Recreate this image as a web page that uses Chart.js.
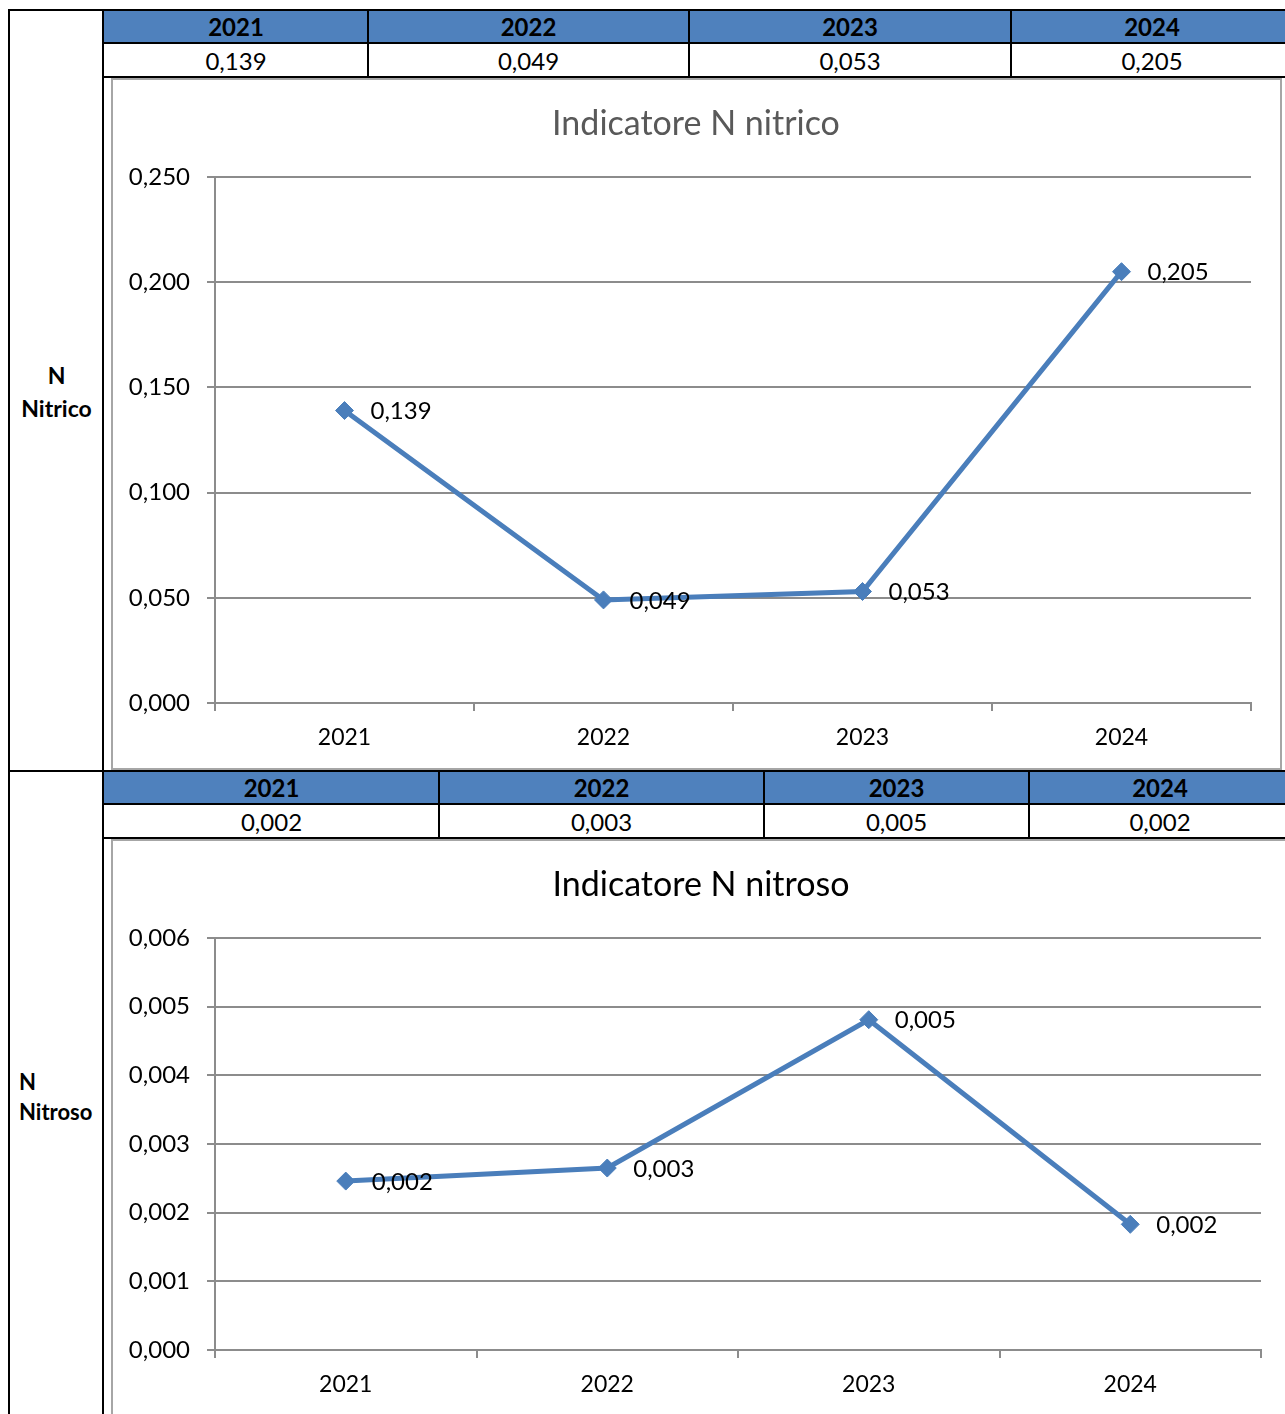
<!DOCTYPE html>
<html lang="it">
<head>
<meta charset="utf-8">
<title>Indicatori N nitrico / N nitroso</title>
<script src="https://cdn.jsdelivr.net/npm/chart.js@4.4.1/dist/chart.umd.min.js"></script>
<style>
  html, body { margin: 0; padding: 0; background: #fff; }
  body { position: relative; width: 1285px; height: 1414px; overflow: hidden; font-family: Lato, 'Open Sans', sans-serif; color: #000; }
  .ln { position: absolute; background: #000; }
  .hd { position: absolute; background: #4F81BD; }
  .cell { position: absolute; display: flex; align-items: center; justify-content: center; font-size: 24px; white-space: nowrap; }
  .cell.year { font-weight: bold; font-size: 24px; }
  .side { position: absolute; font-weight: bold; font-size: 23px; }
  .box { position: absolute; border: 2px solid #A6A6A6; box-sizing: border-box; background: #fff; }
  canvas { position: absolute; }
</style>
</head>
<body>
<div class="side" style="left:10px;width:93px;top:359px;line-height:33px;text-align:center;">N<br>Nitrico</div>
<div class="side" style="left:19px;top:1067px;line-height:30px;font-size:22px;">N<br>Nitroso</div>

<div class="box" style="left:111px;top:78px;width:1171px;height:692px;"></div>
<div class="box" style="left:111px;top:839px;width:1190px;height:620px;"></div>
<canvas id="chartNitrico" width="1168" height="690" style="left:112px;top:80px;"></canvas>
<canvas id="chartNitroso" width="1185" height="600" style="left:112px;top:841px;"></canvas>

<script>
const YEARS = ['2021', '2022', '2023', '2024'];
const N_NITRICO = [0.139, 0.049, 0.053, 0.205];
const N_NITROSO = [0.00246, 0.00265, 0.00481, 0.00183];

const FONT = "Lato, 'Open Sans', sans-serif";
const LINE_BLUE = '#4A7EBB';
const AXIS_GREY = '#8C8C8C';

const fmt = (v) => Number(v).toFixed(3).replace('.', ',');

// righe tabella: intestazione anni + riga valori
function drawTable(top, cols, values) {
    const add = (cls, css, txt) => {
        const d = document.createElement('div');
        d.className = cls;
        d.style.cssText = css;
        if (txt !== undefined) d.textContent = txt;
        document.body.appendChild(d);
    };
    add('hd', `left:104px;top:${top + 2}px;width:1200px;height:31px;`);
    add('ln', `left:102px;top:${top + 33}px;width:1200px;height:2px;`);
    add('ln', `left:102px;top:${top + 67}px;width:1200px;height:2px;`);
    for (let i = 1; i < cols.length - 1; i++) {
        add('ln', `left:${cols[i] - 1}px;top:${top}px;width:2px;height:68px;`);
    }
    YEARS.forEach((y, i) => {
        const l = cols[i], w = cols[i + 1] - cols[i];
        add('cell year', `left:${l}px;top:${top + 2}px;width:${w}px;height:31px;`, y);
        add('cell', `left:${l}px;top:${top + 35}px;width:${w}px;height:32px;`, fmt(values[i]));
    });
}

// griglia esterna
(function frame() {
    const add = (css) => {
        const d = document.createElement('div');
        d.className = 'ln';
        d.style.cssText = css;
        document.body.appendChild(d);
    };
    add('left:8px;top:9px;width:2px;height:1420px;');
    add('left:102px;top:9px;width:2px;height:1420px;');
    add('left:8px;top:9px;width:1300px;height:2px;');
    add('left:8px;top:770px;width:1300px;height:2px;');
})();

drawTable(9, [104, 368, 689, 1011, 1293], N_NITRICO);
drawTable(770, [104, 439, 764, 1029, 1291], N_NITROSO);

// titolo centrato sul riquadro intero (non sull'area del grafico)
const boxTitle = {
    id: 'boxTitle',
    afterDraw(chart, args, opts) {
        const { ctx } = chart;
        ctx.save();
        ctx.font = `34px ${FONT}`;
        ctx.fillStyle = opts.color;
        ctx.textAlign = 'center';
        ctx.textBaseline = 'middle';
        ctx.fillText(opts.text, opts.x, opts.y);
        ctx.restore();
    },
};

// etichette valore a destra di ogni punto
const valueLabels = {
    id: 'valueLabels',
    afterDatasetsDraw(chart) {
        const { ctx } = chart;
        const meta = chart.getDatasetMeta(0);
        const data = chart.data.datasets[0].data;
        ctx.save();
        ctx.font = `24px ${FONT}`;
        ctx.fillStyle = '#000';
        ctx.textAlign = 'left';
        ctx.textBaseline = 'middle';
        meta.data.forEach((pt, i) => {
            ctx.fillText(fmt(data[i]), pt.x + 26, pt.y + 1);
        });
        ctx.restore();
    },
};

function lineChart(canvas, values, o) {
    return new Chart(canvas, {
        type: 'line',
        data: {
            labels: YEARS,
            datasets: [{
                data: values,
                borderColor: LINE_BLUE,
                backgroundColor: LINE_BLUE,
                borderWidth: 5,
                tension: 0,
                pointStyle: 'rectRot',
                pointRadius: 9,
                pointHoverRadius: 9,
                pointBorderWidth: 1,
                pointBorderColor: LINE_BLUE,
            }],
        },
        options: {
            responsive: false,
            animation: false,
            events: [],
            layout: { padding: { left: 0, right: o.padRight, top: o.padTop, bottom: 0 } },
            plugins: {
                legend: { display: false },
                tooltip: { enabled: false },
                boxTitle: { text: o.title, color: o.titleColor, x: o.titleX, y: o.titleY },
            },
            scales: {
                x: {
                    offset: true,
                    grid: { offset: true, drawOnChartArea: false, drawTicks: true, tickLength: 8, color: AXIS_GREY, lineWidth: 2 },
                    border: { color: AXIS_GREY, width: 2 },
                    ticks: { color: '#000', font: { family: FONT, size: 23 }, padding: 13, maxRotation: 0 },
                    afterFit: (s) => { s.height = o.xHeight; },
                },
                y: {
                    min: 0,
                    max: o.max,
                    grid: { color: AXIS_GREY, lineWidth: 2, tickLength: 8 },
                    border: { color: AXIS_GREY, width: 2 },
                    ticks: { stepSize: o.step, color: '#000', font: { family: FONT, size: 24 }, padding: 17, callback: (v) => fmt(v) },
                    afterFit: (s) => { s.width = 103; },
                },
            },
        },
        plugins: [boxTitle, valueLabels],
    });
}

lineChart(document.getElementById('chartNitrico'), N_NITRICO, {
    title: 'Indicatore N nitrico', titleColor: '#595959', titleX: 584, titleY: 44,
    max: 0.25, step: 0.05, padRight: 29, padTop: 97, xHeight: 67,
});
lineChart(document.getElementById('chartNitroso'), N_NITROSO, {
    title: 'Indicatore N nitroso', titleColor: '#000', titleX: 589, titleY: 44,
    max: 0.006, step: 0.001, padRight: 36, padTop: 97, xHeight: 91,
});
</script>
</body>
</html>
